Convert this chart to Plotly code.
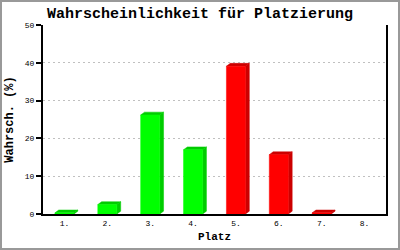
import plotly.graph_objects as go

categories = ["1.", "2.", "3.", "4.", "5.", "6.", "7.", "8."]
values = [0.3, 2.5, 26.2, 17.0, 39.1, 15.7, 0.3, 0.0]
groups = ["g", "g", "g", "g", "r", "r", "r", "r"]
y_ticks = [0, 10, 20, 30, 40, 50]

front_col = {"g": "#00ff00", "r": "#ff0000"}
dark_col = {"g": "#00cc00", "r": "#cc0000"}

HW = 0.222   # half width of front face (category units)
DX = 0.09    # depth x offset
DY = 0.75    # depth y offset

fig = go.Figure()

def add_poly(xs, ys, color):
    fig.add_trace(go.Scatter(x=xs, y=ys, mode="lines", fill="toself",
                             fillcolor=color, line=dict(color=color, width=0.5),
                             hoverinfo="skip", showlegend=False))

for i, (v, g) in enumerate(zip(values, groups)):
    if v <= 0:
        continue
    c = i + 1
    x0, x1 = c - HW, c + HW
    add_poly([x1, x1 + DX, x1 + DX, x1, x1], [0, DY, v + DY, v, 0], dark_col[g])
    add_poly([x0, x0 + DX, x1 + DX, x1, x0], [v, v + DY, v + DY, v, v], dark_col[g])
    add_poly([x0, x1, x1, x0, x0], [0, 0, v, v, 0], front_col[g])

mono = "Liberation Mono, DejaVu Sans Mono, monospace"

fig.update_layout(
    width=400, height=250,
    margin=dict(l=43, r=14, t=25, b=36, autoexpand=False),
    paper_bgcolor="white", plot_bgcolor="white",
    title=dict(text="<b>Wahrscheinlichkeit für Platzierung</b>",
               x=0.5, xanchor="center", y=1 - 13 / 250, yanchor="middle",
               font=dict(family=mono, size=15, color="black"), automargin=False),
    xaxis=dict(range=[0.5, 8.5], tickvals=list(range(1, 9)), ticktext=categories,
               showgrid=False, zeroline=False, showline=True, linecolor="black",
               linewidth=2, ticks="", tickfont=dict(family=mono, size=8, color="black"),
               title=dict(text="<b>Platz</b>", font=dict(family=mono, size=11, color="black"),
                          standoff=6),
               automargin=False, fixedrange=True),
    yaxis=dict(range=[0, 50], tickvals=y_ticks, showgrid=True, gridcolor="#c0c0c0",
               griddash="2px,3px", gridwidth=1, zeroline=False,
               showline=True, linecolor="black", linewidth=2, mirror=True,
               ticks="outside", ticklen=5, tickcolor="black", tickwidth=2,
               tickfont=dict(family=mono, size=8, color="black"),
               title=dict(text="<b>Wahrsch. (%)</b>", font=dict(family=mono, size=12, color="black"),
                          standoff=9),
               automargin=False, fixedrange=True),
    shapes=[dict(type="rect", xref="paper", yref="paper",
                 x0=-42 / 343, x1=1 + 13 / 343, y0=-35 / 189, y1=1 + 24 / 189,
                 line=dict(color="#999999", width=2), layer="above")],
)

fig.write_html("out.html")
